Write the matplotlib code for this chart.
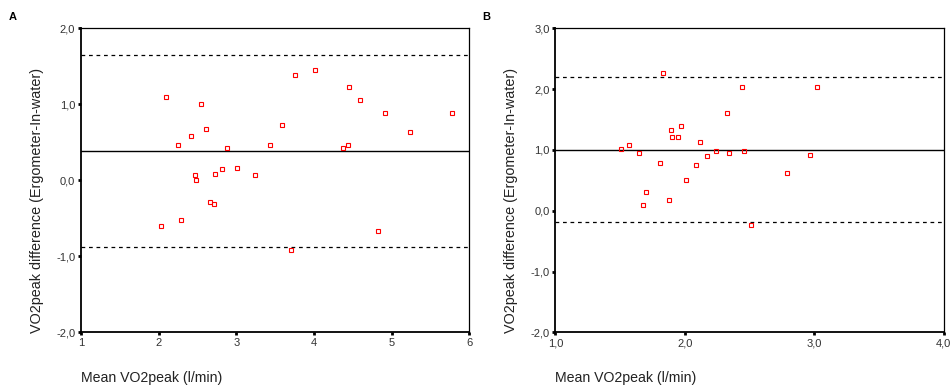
import matplotlib
matplotlib.use('Agg')
import matplotlib.pyplot as plt
import numpy as np

plt.rcParams['font.family'] = ['Liberation Sans', 'DejaVu Sans']

# panel A: ergometer vs in-water, mean and difference (l/min)
a_mean = [2.10, 2.54, 2.61, 2.42, 2.25, 2.88, 3.44, 3.59, 3.76, 4.01, 4.45, 4.59,
          4.91, 5.78, 5.23, 4.38, 4.44, 2.47, 2.48, 2.73, 2.81, 3.01, 3.24, 2.66,
          2.71, 2.29, 2.03, 4.83, 3.70]
a_diff = [1.10, 1.01, 0.68, 0.58, 0.46, 0.42, 0.46, 0.73, 1.39, 1.45, 1.23, 1.06,
          0.89, 0.89, 0.64, 0.43, 0.46, 0.07, 0.01, 0.08, 0.15, 0.16, 0.07, -0.28,
          -0.31, -0.52, -0.60, -0.67, -0.92]
a_bias = 0.386
a_limits = [1.649, -0.882]

# panel B
b_mean = [1.83, 2.44, 3.02, 2.33, 1.97, 1.89, 1.90, 1.95, 2.12, 1.57, 1.51, 1.65,
          2.24, 2.34, 2.46, 2.17, 2.97, 1.81, 2.09, 2.79, 2.01, 1.70, 1.88, 1.68,
          2.51]
b_diff = [2.26, 2.03, 2.03, 1.61, 1.39, 1.33, 1.22, 1.21, 1.13, 1.08, 1.02, 0.95,
          0.99, 0.95, 0.99, 0.90, 0.92, 0.78, 0.75, 0.62, 0.50, 0.31, 0.18, 0.10,
          -0.23]
b_bias = 1.0
b_limits = [2.194, -0.191]


def comma(v, nd):
    return f'{v:.{nd}f}'.replace('.', ',')


def panel(ax, xs, ys, bias, limits, xlim, ylim, xticks, yticks, xnd):
    ax.axhline(bias, color='black', lw=1.0)
    for lim in limits:
        ax.axhline(lim, color='black', lw=0.9, dashes=(3, 3))
    ax.plot(xs, ys, 's', ms=3.5, mfc='none', mec='#ff0000', mew=0.8)
    ax.set_xlim(xlim)
    ax.set_ylim(ylim)
    ax.set_xticks(xticks)
    ax.set_yticks(yticks)
    ax.set_xticklabels([comma(v, xnd) for v in xticks])
    ax.set_yticklabels([comma(v, 1) for v in yticks])
    ax.tick_params(direction='out', length=2.2, width=2.0, labelsize=8,
                   colors='black', labelcolor='#333333', pad=2)
    for s in ['left', 'bottom']:
        ax.spines[s].set_linewidth(1.3)
    for s in ['top', 'right']:
        ax.spines[s].set_linewidth(0.9)


fig = plt.figure(figsize=(9.53, 3.88), dpi=100)
W, H = 953.0, 388.0
axA = fig.add_axes([81 / W, 1 - 332.3 / H, 388.3 / W, 304 / H])
axB = fig.add_axes([555.3 / W, 1 - 332.3 / H, 388.4 / W, 304 / H])

panel(axA, a_mean, a_diff, a_bias, a_limits, (1, 6), (-2, 2),
      [1, 2, 3, 4, 5, 6], [-2, -1, 0, 1, 2], 0)
panel(axB, b_mean, b_diff, b_bias, b_limits, (1, 4), (-2, 3),
      [1, 2, 3, 4], [-2, -1, 0, 1, 2, 3], 1)

ylab = 'VO2peak difference (Ergometer-In-water)'
xlab = 'Mean VO2peak (l/min)'
for x0, xl0, letter, lx in [(37, 81, 'A', 9), (511, 555, 'B', 482)]:
    fig.text(x0 / W, 1 - 333 / H, ylab, rotation=90, ha='center', va='bottom',
             fontsize=10.4, color='#222222')
    fig.text(xl0 / W, 1 - 378 / H, xlab, ha='left', va='center',
             fontsize=10.2, color='#222222')
    fig.text(lx / W, 1 - 19.5 / H, letter, ha='left', va='baseline',
             fontsize=8, fontweight='bold')

fig.savefig('out.png', dpi=100)
